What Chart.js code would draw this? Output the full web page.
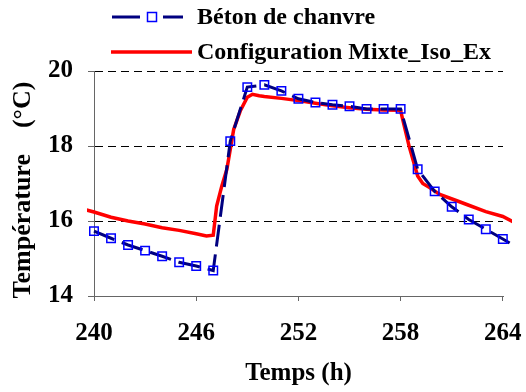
<!DOCTYPE html>
<html lang="fr">
<head>
  <meta charset="UTF-8">
  <title>Température - Béton de chanvre</title>
  <script src="https://cdn.jsdelivr.net/npm/chart.js"></script>
  <style>
    html, body { margin: 0; padding: 0; background: #fff; }
    #wrap { width: 526px; height: 392px; }
  </style>
</head>
<body>
<div id="wrap"><canvas id="tempChart" width="526" height="392"></canvas></div>

<script>
  // Béton de chanvre (mesure, une valeur par heure)
  const betonHours = [240, 241, 242, 243, 244, 245, 246, 247, 248, 249, 250, 251, 252,
                      253, 254, 255, 256, 257, 258, 259, 260, 261, 262, 263, 264, 265];
  const betonTemps = [15.73, 15.54, 15.36, 15.21, 15.06, 14.90, 14.80, 14.68, 18.13, 19.57, 19.63, 19.47, 19.26,
                      19.16, 19.10, 19.06, 18.99, 18.99, 18.99, 17.38, 16.79, 16.38, 16.04, 15.78, 15.52, 15.25];

  // Configuration Mixte_Iso_Ex (simulation)
  const mixteHours = [239.5, 240, 241, 242, 243, 244, 245, 246, 246.6, 247, 247.2, 247.5, 247.8, 248.2, 248.6,
                      249.0, 249.3, 249.7, 250, 251, 252, 253, 254, 255, 256, 257, 258, 258.1, 258.5,
                      259, 259.3, 259.7, 260.3, 261.3, 262, 263, 264, 265];
  const mixteTemps = [16.30, 16.24, 16.10, 16.00, 15.92, 15.82, 15.75, 15.66, 15.60, 15.62, 16.40, 16.93, 17.38, 18.44, 18.95,
                      19.30, 19.38, 19.34, 19.32, 19.27, 19.21, 19.14, 19.07, 19.02, 18.98, 18.96, 18.95, 18.75, 17.99,
                      17.20, 17.00, 16.89, 16.71, 16.54, 16.42, 16.25, 16.12, 15.88];

  const xTicks = [240, 246, 252, 258, 264];
  const yTicks = [14, 16, 18, 20];

  const serif = 'Liberation Serif';
  const axisGrey = '#666666';

  function toPoints(xs, ys) {
    return xs.map((x, i) => ({ x: x, y: ys[i] }));
  }

  // legend drawn by hand: line + marker sample like the original
  const legendPlugin = {
    id: 'sampleLegend',
    afterDraw(chart) {
      const ctx = chart.ctx;
      const ds = chart.data.datasets;
      const rows = [17, 52];
      ctx.save();
      ds.forEach((d, i) => {
        const y = rows[i];
        ctx.lineWidth = d.borderWidth;
        ctx.strokeStyle = d.borderColor;
        ctx.setLineDash([]);
        ctx.beginPath();
        if (d.showMarks) {
          ctx.moveTo(112, y); ctx.lineTo(140, y);
          ctx.moveTo(163, y); ctx.lineTo(183, y);
          ctx.stroke();
          ctx.lineWidth = d.pointBorderWidth;
          ctx.strokeStyle = d.pointBorderColor;
          ctx.strokeRect(147.5, y - 4.5, 9, 9);
        } else {
          ctx.moveTo(111, y); ctx.lineTo(192, y);
          ctx.stroke();
        }
        ctx.fillStyle = '#000';
        ctx.font = 'bold 24px "' + serif + '"';
        ctx.textBaseline = 'middle';
        ctx.textAlign = 'left';
        ctx.fillText(d.label, 197, y + 1);
      });
      ctx.restore();
    }
  };

  const ctx = document.getElementById('tempChart').getContext('2d');
  new Chart(ctx, {
    type: 'line',
    data: {
      datasets: [{
        label: 'Béton de chanvre',
        data: toPoints(betonHours, betonTemps),
        showMarks: true,
        borderColor: '#000080',
        borderWidth: 3,
        borderDash: [22, 8],
        pointStyle: 'rect',
        pointRadius: 6,
        pointBorderColor: '#0000ff',
        pointBackgroundColor: 'rgba(0,0,0,0)',
        pointBorderWidth: 1.5,
        tension: 0,
        clip: { left: 7, right: 9, top: 10, bottom: 10 }
      }, {
        label: 'Configuration Mixte_Iso_Ex',
        data: toPoints(mixteHours, mixteTemps),
        showMarks: false,
        borderColor: '#ff0000',
        borderWidth: 3.5,
        pointRadius: 0,
        tension: 0,
        clip: { left: 7, right: 9, top: 10, bottom: 10 }
      }]
    },
    plugins: [legendPlugin],
    options: {
      responsive: false,
      animation: false,
      events: [],
      layout: { padding: { top: 71, right: 23, bottom: 0, left: 0 } },
      plugins: {
        legend: { display: false },
        tooltip: { enabled: false }
      },
      scales: {
        x: {
          type: 'linear',
          min: 240,
          // a hair past 264 so the line keeps running to the plot edge
          max: 264.01,
          afterBuildTicks: scale => { scale.ticks = xTicks.map(v => ({ value: v })); },
          afterFit: scale => {
            scale.height = 96;
            scale.paddingLeft = 0;
            scale.paddingRight = 0;
          },
          ticks: {
            color: '#000',
            padding: 18,
            maxRotation: 0,
            font: { family: serif, size: 25, weight: 'bold' }
          },
          grid: {
            drawOnChartArea: false,
            drawTicks: true,
            tickLength: 5,
            tickColor: axisGrey
          },
          border: { color: axisGrey, width: 1 },
          title: {
            display: true,
            text: 'Temps (h)',
            color: '#000',
            padding: { top: 0, bottom: 3 },
            font: { family: serif, size: 25, weight: 'bold' }
          }
        },
        y: {
          min: 14,
          max: 20,
          afterBuildTicks: scale => { scale.ticks = yTicks.map(v => ({ value: v })); },
          afterFit: scale => { scale.width = 94; },
          ticks: {
            color: '#000',
            padding: 15,
            font: { family: serif, size: 25, weight: 'bold' }
          },
          grid: {
            color: c => (c.tick && c.tick.value === 14) ? 'rgba(0,0,0,0)' : '#000',
            lineWidth: 1,
            drawTicks: true,
            tickLength: 6,
            tickColor: axisGrey,
            tickBorderDash: []
          },
          border: { color: axisGrey, width: 1, dash: [8, 5] },
          title: {
            display: true,
            text: 'Température    (°C)  ',
            color: '#000',
            padding: { top: 8, bottom: 0 },
            font: { family: serif, size: 26, weight: 'bold' }
          }
        }
      }
    }
  });
</script>
</body>
</html>
